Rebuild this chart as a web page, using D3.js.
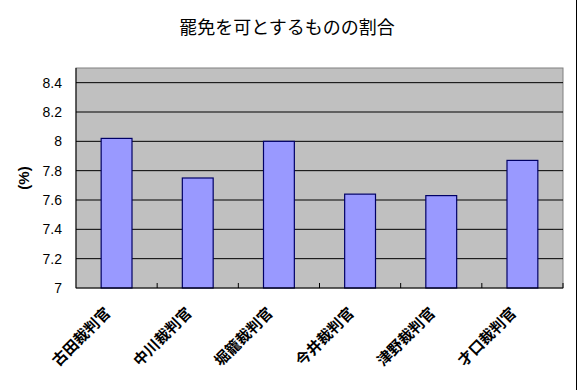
<html><head>
<meta charset="utf-8">
<script src="https://d3js.org/d3.v7.min.js"></script>
<style>
  body { margin: 0; background: white; }
  svg { display: block; }
  .tick-label { font-family: Arial, "Liberation Sans", sans-serif; font-size: 14px; }
  .cat-label { font-family: "Noto Sans CJK JP", sans-serif; font-size: 15px; font-weight: bold; }
</style>
</head>
<body>
<svg id="chart" width="577" height="390"></svg>
<script>
  // data
  const judges = ["古田裁判官", "中川裁判官", "堀籠裁判官", "今井裁判官", "津野裁判官", "才口裁判官"];
  const rates = [8.02, 7.75, 8.00, 7.64, 7.63, 7.87];
  const yTicks = [7, 7.2, 7.4, 7.6, 7.8, 8, 8.2, 8.4];

  const svg = d3.select("svg#chart");
  const plot = { left: 76, right: 563, top: 68, bottom: 288 };

  const x = d3.scaleBand().domain(judges)
              .range([plot.left, plot.right])
              .paddingInner(0.62).paddingOuter(0.31);
  const y = d3.scaleLinear().domain([7, 8.5]).range([plot.bottom, plot.top]);

  // title
  svg.append("text").text("罷免を可とするものの割合")
     .attr("x", 287).attr("y", 34)
     .attr("text-anchor", "middle")
     .attr("font-family", "'Noto Sans CJK JP', sans-serif")
     .attr("font-size", "18px");

  // plot background
  svg.append("rect")
     .attr("x", plot.left).attr("y", plot.top)
     .attr("width", plot.right - plot.left).attr("height", plot.bottom - plot.top)
     .attr("fill", "#c0c0c0").attr("stroke", "#808080");

  // gridlines
  svg.selectAll("line.grid").data(yTicks.filter(d => d > 7))
     .join("line").attr("class", "grid")
     .attr("x1", plot.left).attr("x2", plot.right)
     .attr("y1", d => y(d)).attr("y2", d => y(d))
     .attr("stroke", "black");

  // y tick labels
  svg.selectAll("text.tick-label").data(yTicks)
     .join("text").attr("class", "tick-label")
     .attr("x", 62).attr("y", d => y(d) + 5)
     .attr("text-anchor", "end")
     .text(d => d3.format("")(+d.toFixed(1)));

  // bars
  svg.selectAll("rect.bar").data(judges)
     .join("rect").attr("class", "bar")
     .attr("x", d => x(d))
     .attr("width", x.bandwidth())
     .attr("y", (d, i) => y(rates[i]))
     .attr("height", (d, i) => y(7) - y(rates[i]))
     .attr("fill", "#9999ff")
     .attr("stroke", "#000066").attr("stroke-width", 1.2);

  // axes lines
  svg.append("line").attr("x1", plot.left).attr("x2", plot.right)
     .attr("y1", plot.bottom).attr("y2", plot.bottom).attr("stroke", "black");
  svg.append("line").attr("x1", plot.left).attr("x2", plot.left)
     .attr("y1", plot.top).attr("y2", plot.bottom).attr("stroke", "black");

  // x ticks between categories (pointing in)
  const bounds = d3.range(1, judges.length + 1).map(i => plot.left + i * (plot.right - plot.left) / judges.length);
  svg.selectAll("line.xtick").data(bounds)
     .join("line").attr("class", "xtick")
     .attr("x1", d => d).attr("x2", d => d)
     .attr("y1", plot.bottom).attr("y2", plot.bottom - 5)
     .attr("stroke", "black");

  // category labels, rotated
  svg.selectAll("text.cat-label").data(judges)
     .join("text").attr("class", "cat-label")
     .attr("text-anchor", "end")
     .attr("transform", d => `translate(${x(d) + x.bandwidth() / 2 - 5}, 314) rotate(-45)`)
     .text(d => d);

  // y axis title
  svg.append("text").text("(%)")
     .attr("transform", "translate(29,178) rotate(-90)")
     .attr("text-anchor", "middle")
     .attr("font-family", "Arial, sans-serif")
     .attr("font-weight", "bold")
     .attr("font-size", "15px");

  // right frame edge
  svg.append("line").attr("x1", 576.5).attr("x2", 576.5)
     .attr("y1", 0).attr("y2", 390).attr("stroke", "black");
</script>
</body>
</html>
